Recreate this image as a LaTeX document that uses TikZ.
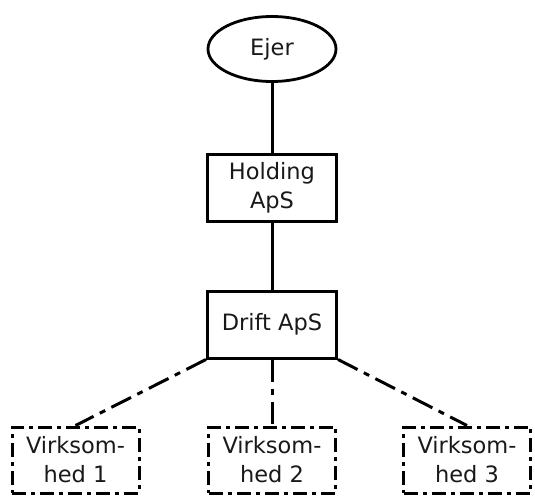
\documentclass[tikz,border=0pt]{standalone}
\usepackage{fontspec}
\setmainfont{DejaVu Sans}
\usetikzlibrary{shapes.geometric}
\begin{document}
\begin{tikzpicture}[x=1pt,y=-1pt,
  every node/.style={font=\fontsize{22.5}{29}\selectfont, text=black!90, align=center, inner sep=0pt},
  solidbox/.style={draw, line width=3pt, minimum width=129pt, minimum height=67pt},
  dashbox/.style={draw, line width=3pt, minimum width=127pt, minimum height=66pt, dash pattern=on 14pt off 5pt on 4pt off 5pt},
  link/.style={line width=3pt},
  dlink/.style={line width=3pt, dash pattern=on 22pt off 7pt on 6pt off 7pt}]
\useasboundingbox (0,0) rectangle (535,496);
\node[ellipse, draw, line width=2.8pt, minimum width=128pt, minimum height=65pt] (ejer) at (272,49) {Ejer};
\node[solidbox] (hold) at (272,187.5) {Holding\\ApS};
\node[solidbox] (drift) at (272,324.5) {Drift ApS};
\node[dashbox] (v1) at (75.5,460) {Virksom-\\hed 1};
\node[dashbox] (v2) at (272,460) {Virksom-\\hed 2};
\node[dashbox] (v3) at (467,460) {Virksom-\\hed 3};
\draw[link] (ejer) -- (hold);
\draw[link] (hold) -- (drift);
\draw[dlink] (drift.south west) -- (v1.north);
\draw[dlink] (drift.south) -- (v2.north);
\draw[dlink] (drift.south east) -- (v3.north);
\end{tikzpicture}
\end{document}
